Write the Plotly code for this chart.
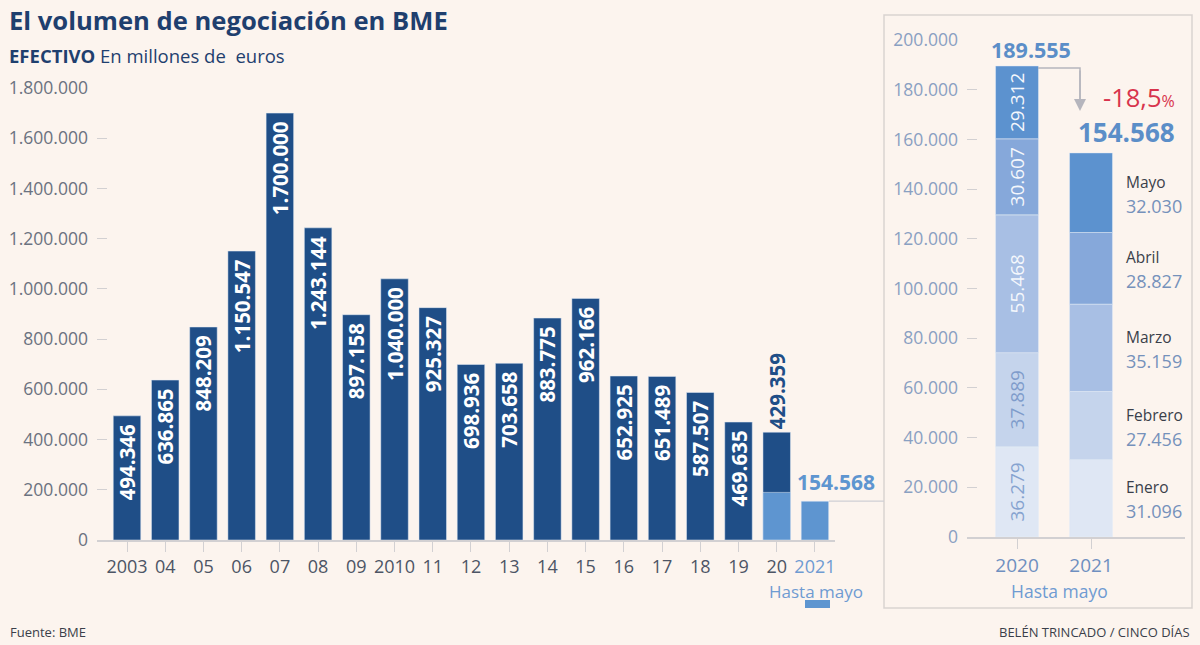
import itertools
import plotly.graph_objects as go

# Annual trading volume (millions of euros)
years = ["2003", "04", "05", "06", "07", "08", "09", "2010", "11", "12",
         "13", "14", "15", "16", "17", "18", "19", "20", "2021"]
volumes = [494346, 636865, 848209, 1150547, 1700000, 1243144, 897158, 1040000,
           925327, 698936, 703658, 883775, 962166, 652925, 651489, 587507,
           469635, 429359, None]
# January-May totals
ytd_years = ["20", "2021"]
ytd_totals = [189555, 154568]

# Monthly breakdown, January-May
months = ["Enero", "Febrero", "Marzo", "Abril", "Mayo"]
months_2020 = [36279, 37889, 55468, 30607, 29312]
months_2021 = [31096, 27456, 35159, 28827, 32030]
panel_years = ["2020", "2021"]

W, H = 1200, 645
BG = "#fcf4ee"
NAVY = "#1f4e87"
LIGHT = "#5e95d0"
GRAY = "#5d6675"
FONT = "Open Sans"
month_colors = ["#dfe7f4", "#c5d4ec", "#a8bfe4", "#86a8da", "#5c92cf"]
month_text = ["#86a3d0", "#7f9ccb", "#f4f7fc", "#f4f7fc", "#f4f7fc"]


def px(x):
    return x / W


def py(y):
    return (H - y) / H


def fmt(v):
    return f"{v:,.0f}".replace(",", ".")


fig = go.Figure()

# left chart: annual bars
positions = ["inside"] * (len(volumes) - 2) + ["outside", "none"]
labels = [fmt(v) + "\u00a0" if v else "" for v in volumes]
labels[-2] = fmt(volumes[-2])
fig.add_trace(go.Bar(
    x=years, y=volumes, marker_color=NAVY, width=0.72,
    text=labels,
    textposition=positions, textangle=-90, insidetextanchor="end",
    insidetextfont=dict(family=FONT, size=20.5, color="white", weight="bold"),
    outsidetextfont=dict(family=FONT, size=20.5, color=NAVY, weight="bold"),
    cliponaxis=False, constraintext="none", hoverinfo="skip",
    xaxis="x", yaxis="y",
))
fig.add_trace(go.Bar(
    x=ytd_years, y=ytd_totals, marker_color=LIGHT, width=0.72,
    hoverinfo="skip", xaxis="x", yaxis="y",
))

# right panel: monthly stacks (bases from cumulative sums)
base_2020 = [0] + list(itertools.accumulate(months_2020))[:-1]
base_2021 = [0] + list(itertools.accumulate(months_2021))[:-1]
for i, m in enumerate(months):
    fig.add_trace(go.Bar(
        x=panel_years, y=[months_2020[i], months_2021[i]],
        base=[base_2020[i], base_2021[i]],
        marker_color=month_colors[i], width=0.58,
        text=[fmt(months_2020[i]), ""], textposition="inside",
        textangle=-90, insidetextanchor="middle", constraintext="none",
        insidetextfont=dict(family=FONT, size=19, color=month_text[i]),
        hoverinfo="skip", xaxis="x2", yaxis="y2",
    ))

i21 = years.index("2021")
annotations = []

# 2021 label on the left chart
annotations.append(dict(
    x=i21, y=ytd_totals[1], xref="x", yref="y", text=fmt(ytd_totals[1]),
    showarrow=False, xshift=21, yanchor="bottom", yshift=3,
    font=dict(family=FONT, size=21, color=LIGHT, weight="bold"),
))
annotations.append(dict(
    x=i21, y=0, xref="x", yref="y", text="Hasta mayo", showarrow=False,
    yanchor="top", yshift=-38, xshift=1,
    font=dict(family=FONT, size=17, color="#6f9bd2"),
))

# right panel labels
total_2020 = sum(months_2020)
total_2021 = sum(months_2021)
change = (total_2021 / total_2020 - 1) * 100
annotations.append(dict(
    x=0, y=total_2020, xref="x2", yref="y2", text=fmt(total_2020),
    showarrow=False, xshift=14, yanchor="bottom", yshift=0,
    font=dict(family=FONT, size=21.5, color="#5b8ec8", weight="bold"),
))
annotations.append(dict(
    x=1, y=total_2021, xref="x2", yref="y2", text=fmt(total_2021),
    showarrow=False, xshift=35, yanchor="bottom", yshift=1,
    font=dict(family=FONT, size=26, color="#5b8ec8", weight="bold"),
))
annotations.append(dict(
    x=1, y=total_2021, xref="x2", yref="y2",
    text=f"{change:.1f}".replace(".", ",") + "<span style='font-size:16px'>%</span>",
    showarrow=False, xshift=48, yanchor="bottom", yshift=37,
    font=dict(family=FONT, size=25.5, color="#d8334c"),
))
for i, m in enumerate(months):
    mid = base_2021[i] + months_2021[i] / 2
    annotations.append(dict(
        x=1, y=mid, xref="x2", yref="y2", text=m, showarrow=False,
        xanchor="left", xshift=33, yshift=11,
        font=dict(family=FONT, size=15.5, color="#3a3f4a"),
    ))
    annotations.append(dict(
        x=1, y=mid, xref="x2", yref="y2", text=fmt(months_2021[i]),
        showarrow=False, xanchor="left", xshift=33, yshift=-13,
        font=dict(family=FONT, size=18, color="#7591bb"),
    ))
annotations.append(dict(
    x=px(1059), y=py(591), xref="paper", yref="paper", text="Hasta mayo",
    showarrow=False, xanchor="center", yanchor="middle",
    font=dict(family=FONT, size=17.5, color="#6f9bd2"),
))
# arrow head from 2020 total down to 2021
annotations.append(dict(
    x=px(1080), y=py(111), xref="paper", yref="paper", ax=0, ay=-42,
    text="", showarrow=True, arrowhead=2, arrowsize=1.6, arrowwidth=1.5,
    arrowcolor="#b5b5bd",
))

# titles and credits
annotations += [
    dict(x=px(7), y=py(20), xref="paper", yref="paper", xanchor="left",
         yanchor="middle", text="<b>El volumen de negociación en BME</b>",
         showarrow=False, font=dict(family=FONT, size=25.6, color="#1f3f6e")),
    dict(x=px(7), y=py(55), xref="paper", yref="paper", xanchor="left",
         yanchor="middle", text="<b>EFECTIVO</b> En millones de  euros",
         showarrow=False, font=dict(family=FONT, size=18.5, color="#1f3f6e")),
    dict(x=px(8), y=py(632), xref="paper", yref="paper", xanchor="left",
         yanchor="middle", text="Fuente: BME", showarrow=False,
         font=dict(family=FONT, size=13, color="#3a3f4a")),
    dict(x=px(1192), y=py(632), xref="paper", yref="paper", xanchor="right",
         yanchor="middle", text="BELÉN TRINCADO / CINCO DÍAS", showarrow=False,
         font=dict(family=FONT, size=13, color="#3a3f4a")),
]

shapes = [
    # right panel frame
    dict(type="rect", xref="paper", yref="paper", x0=px(884), x1=px(1192),
         y0=py(608), y1=py(15), line=dict(color="#d9d3d1", width=1.5)),
    # connector from 2021 bar to the panel
    dict(type="line", xref="paper", yref="y", x0=px(829), x1=px(884),
         y0=ytd_totals[1], y1=ytd_totals[1], line=dict(color="#cfcfd4", width=1.2)),
    # arrow line from the 2020 total
    dict(type="path", xref="paper", yref="paper",
         path=f"M {px(1038)},{py(68)} L {px(1080)},{py(68)} L {px(1080)},{py(104)}",
         line=dict(color="#b5b5bd", width=1.5)),
    # legend swatch
    dict(type="rect", xref="paper", yref="paper", x0=px(805), x1=px(830),
         y0=py(608), y1=py(600), fillcolor=LIGHT, line=dict(width=0)),
]

year_ticks = [y if y != "2021" else "<span style='color:#6f9bd2'>2021</span>" for y in years]

fig.update_layout(
    width=W, height=H, margin=dict(l=0, r=0, t=0, b=0, autoexpand=False),
    paper_bgcolor=BG, plot_bgcolor=BG, showlegend=False,
    barmode="overlay", separators=",.",
    font=dict(family=FONT, color=GRAY),
    annotations=annotations, shapes=shapes,
    xaxis=dict(
        type="category", categoryorder="array", categoryarray=years,
        domain=[px(97), px(835)], range=[-0.785, 18.525],
        tickmode="array", tickvals=years, ticktext=year_ticks,
        showline=True, linecolor="#d2d0d2", linewidth=1.5,
        ticks="outside", ticklen=10, tickcolor="#d2d0d2",
        tickfont=dict(size=18, color="#4d5565"), fixedrange=True,
    ),
    yaxis=dict(
        domain=[py(540), py(88)], range=[0, 1800000], dtick=200000,
        tickformat=",.0f", showgrid=False, zeroline=False,
        ticks="inside", ticklen=10, tickcolor="#d2d0d2", ticklabelstandoff=8,
        tickfont=dict(size=17.5, color="#6b7280"), fixedrange=True,
    ),
    xaxis2=dict(
        type="category", categoryorder="array", categoryarray=panel_years,
        domain=[px(967), px(1185)], range=[-0.676, 2.27], anchor="y2",
        showline=True, linecolor="#d2d0d2", linewidth=1.5,
        ticks="outside", ticklen=10, tickcolor="#d2d0d2",
        tickfont=dict(size=19, color="#6f8fc0"), fixedrange=True,
    ),
    yaxis2=dict(
        domain=[py(537), py(40)], range=[0, 200000], dtick=20000, anchor="x2",
        tickformat=",.0f", showgrid=False, zeroline=False,
        ticks="inside", ticklen=10, tickcolor="#d2d0d2", ticklabelstandoff=8,
        tickfont=dict(size=17.5, color="#8aa0c2"), fixedrange=True,
    ),
)

fig.write_html("out.html", config={"displayModeBar": False},
               post_script="document.body.style.margin='0';")
